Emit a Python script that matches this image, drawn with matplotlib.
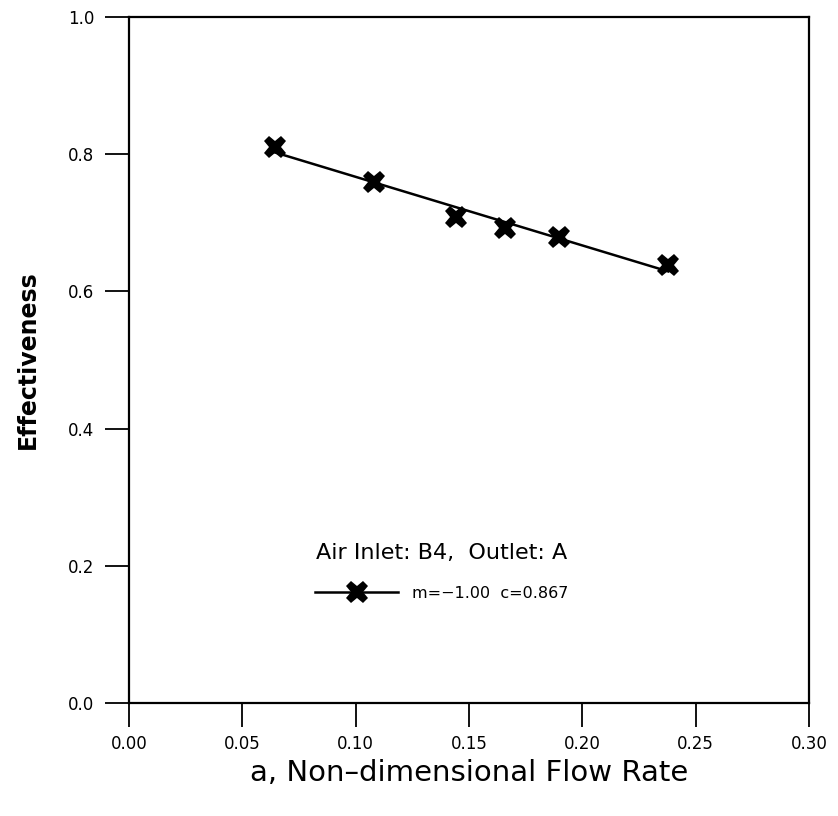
import numpy as np
from matplotlib import pyplot as plt
from matplotlib.lines import Line2D

# measured points
flow_rate = [0.0644, 0.1082, 0.1442, 0.1659, 0.1898, 0.2379]
effectiveness = [0.810, 0.759, 0.708, 0.693, 0.680, 0.638]

# linear fit shown in legend
slope = -1.00
intercept = 0.867

x_ticks = [0.00, 0.05, 0.10, 0.15, 0.20, 0.25, 0.30]
y_ticks = [0.0, 0.2, 0.4, 0.6, 0.8, 1.0]


def main():
    plt.rcParams['font.family'] = ['DejaVu Sans']

    fig = plt.figure(figsize=(8.38, 8.16), dpi=100)
    ax = fig.add_axes([129 / 838, 1 - 703 / 816, 680 / 838, 686 / 816])

    fit_x = np.array([flow_rate[0], flow_rate[-1]])
    fit_y = intercept + slope * fit_x
    ax.plot(fit_x, fit_y, color='black', lw=1.8, zorder=2)
    ax.plot(flow_rate, effectiveness, linestyle='none', marker='X',
            markersize=16, color='black', markeredgewidth=0, zorder=3)

    ax.set_xlim(0, 0.30)
    ax.set_ylim(0, 1.0)
    ax.set_xticks(x_ticks)
    ax.set_yticks(y_ticks)
    ax.set_xticklabels([f'{v:.2f}' for v in x_ticks])
    ax.set_yticklabels([f'{v:.1f}' for v in y_ticks])
    ax.tick_params(direction='out', length=17, width=1.3, labelsize=12,
                   pad=8)
    ax.tick_params(axis='x', pad=6)
    for spine in ax.spines.values():
        spine.set_linewidth(1.6)

    ax.set_xlabel('a, Non\u2013dimensional Flow Rate', fontsize=21,
                  fontweight='medium', labelpad=4)
    ax.set_ylabel('Effectiveness', fontsize=17, fontweight='bold',
                  labelpad=20)

    ax.text(0.460, 0.2187, 'Air Inlet: B4,  Outlet: A', transform=ax.transAxes,
            ha='center', va='center', fontsize=16)

    handle = Line2D([], [], color='black', lw=1.8, marker='X',
                    markersize=16, markeredgewidth=0)
    ax.legend([handle], ['m=\u22121.00  c=0.867'], loc='center left',
              bbox_to_anchor=(0.2735, 0.160), frameon=False, fontsize=11.5,
              handlelength=5.2, handletextpad=0.9, borderpad=0,
              borderaxespad=0)

    fig.savefig('out.png', dpi=100)


if __name__ == '__main__':
    main()
